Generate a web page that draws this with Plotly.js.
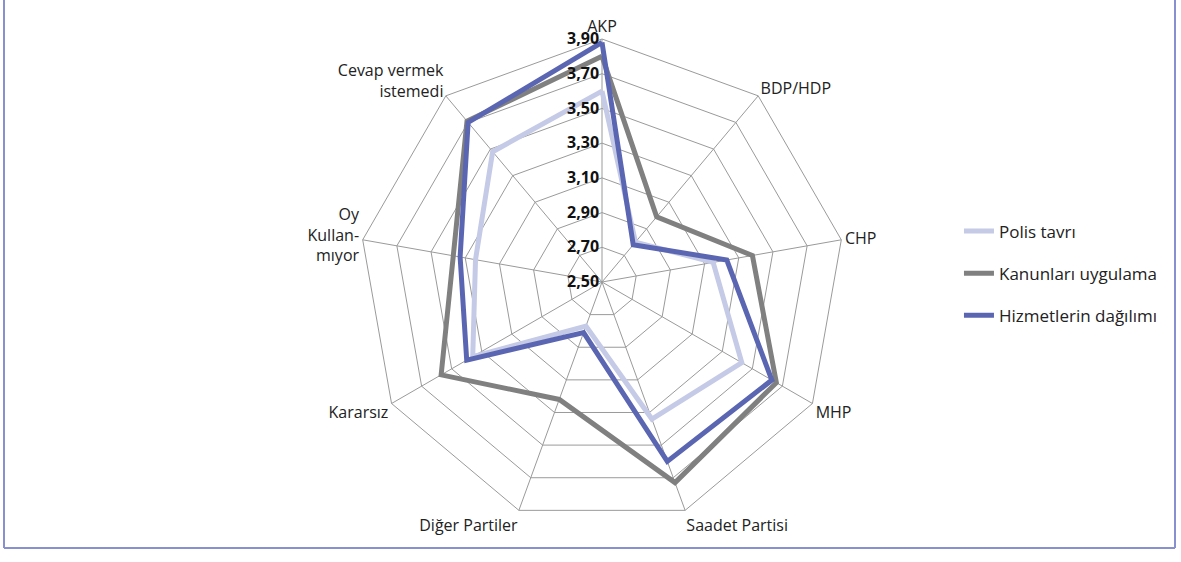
<!DOCTYPE html>
<html>
<head>
<meta charset="utf-8">
<script src="https://cdn.plot.ly/plotly-3.0.1.min.js"></script>
<style>
html,body{margin:0;padding:0;background:#fff;}
#chart{width:1181px;height:562px;}
</style>
</head>
<body>
<div id="chart"></div>
<script>
var categories = ["AKP", "BDP/HDP", "CHP", "MHP", "Saadet Partisi", "Diğer Partiler", "Kararsız", "Oy<br>Kullan-<br>mıyor", "Cevap vermek<br>istemedi"];
var seriesNames = ["Polis tavrı", "Kanunları uygulama", "Hizmetlerin dağılımı"];
var polisTavri = [3.60, 2.80, 3.15, 3.43, 3.34, 2.77, 3.36, 3.24, 3.48];
var kanunlariUygulama = [3.80, 2.99, 3.38, 3.66, 3.73, 3.22, 3.57, 3.37, 3.71];
var hizmetlerinDagilimi = [3.88, 2.78, 3.23, 3.63, 3.60, 2.81, 3.40, 3.33, 3.70];
var radialTicks = [2.5, 2.7, 2.9, 3.1, 3.3, 3.5, 3.7, 3.9];

var colors = ["#c5cae6", "#808080", "#5b66b2"];
var values = [polisTavri, kanunlariUygulama, hizmetlerinDagilimi];

function closed(arr){ return arr.concat([arr[0]]); }

var traces = values.map(function(v, i){
  return {
    type: "scatterpolar",
    mode: "lines",
    r: closed(v),
    theta: closed(categories),
    name: seriesNames[i],
    legendgroup: "g" + i,
    line: {color: colors[i], width: 5},
    hoverinfo: "skip"
  };
});

var radialText = radialTicks.map(function(v){ return "<b>" + v.toFixed(2).replace(".", ",") + "</b>"; });

var W = 1181, H = 562;
var cx = 602, cy = 282, R = 243;
var FONT = "'Open Sans', Lato, 'Noto Sans', sans-serif";

var layout = {
  width: W, height: H,
  margin: {l: 0, r: 0, t: 0, b: 0},
  paper_bgcolor: "#ffffff",
  separators: ",.",
  font: {family: FONT, color: "#222222", size: 15},
  showlegend: true,
  legend: {
    x: 0.812, y: 0.62, xanchor: "left", yanchor: "top",
    traceorder: "grouped",
    tracegroupgap: 17,
    font: {family: FONT, size: 17, color: "#222222"},
    bgcolor: "rgba(0,0,0,0)"
  },
  polar: {
    domain: {x: [(cx - R) / W, (cx + R) / W], y: [(H - cy - R) / H, (H - cy + R) / H]},
    bgcolor: "#ffffff",
    gridshape: "linear",
    angularaxis: {
      rotation: 90,
      direction: "clockwise",
      type: "category",
      categoryorder: "array",
      categoryarray: categories,
      showline: true,
      linecolor: "#9a9a9a",
      linewidth: 1,
      gridcolor: "#9a9a9a",
      gridwidth: 1,
      ticks: "",
      tickfont: {family: FONT, size: 16, color: "#222222"}
    },
    radialaxis: {
      range: [2.5, 3.9],
      tickvals: radialTicks,
      ticktext: radialText,
      tickangle: 90,
      angle: 90,
      side: "counterclockwise",
      showline: false,
      ticks: "",
      gridcolor: "#9a9a9a",
      gridwidth: 1,
      tickfont: {family: FONT, size: 16, color: "#111111"}
    }
  },
  shapes: [
    {type: "line", xref: "paper", yref: "paper", x0: 4 / W, x1: 4 / W, y0: (H - 548) / H, y1: 1.01, line: {color: "#8890cf", width: 2}},
    {type: "line", xref: "paper", yref: "paper", x0: 4 / W, x1: 1175 / W, y0: (H - 548) / H, y1: (H - 548) / H, line: {color: "#8890cf", width: 2}},
    {type: "line", xref: "paper", yref: "paper", x0: 1175 / W, x1: 1175 / W, y0: (H - 548) / H, y1: 1.01, line: {color: "#8890cf", width: 2}}
  ]
};

Plotly.newPlot("chart", traces, layout, {displayModeBar: false, staticPlot: true});
</script>
</body>
</html>
